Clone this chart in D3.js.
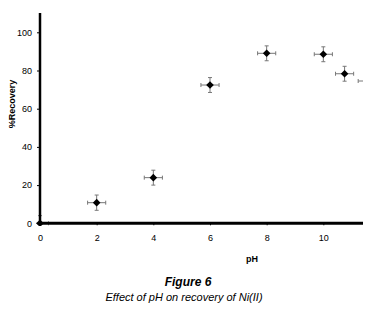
<!DOCTYPE html>
<html><head><meta charset="utf-8">
<script src="https://cdn.jsdelivr.net/npm/d3@7"></script>
<style>body{margin:0;background:#fff}svg{display:block}text{font-family:Arial,"Liberation Sans",sans-serif}</style>
</head><body><svg id="c" width="379" height="312"></svg>
<script>
const phValues = [0, 2, 4, 6, 8, 10, 10.75, 11.55];
const recovery = [0, 10.8, 23.9, 72.4, 89.0, 88.5, 78.3, 74.5];
const yErr = [4, 4, 3.9, 3.9, 3.9, 3.9, 3.9, 0];
const xErr = [0.3, 0.32, 0.32, 0.32, 0.32, 0.32, 0.32, 0.32];
const xTicks = [0, 2, 4, 6, 8, 10];
const yTicks = [0, 20, 40, 60, 80, 100];

const svg = d3.select("#c");
const x = d3.scaleLinear().domain([0, 11.4]).range([40, 363]);
const y = d3.scaleLinear().domain([0, 100]).range([223.3, 32.3]);

svg.append("clipPath").attr("id","clip").append("rect")
  .attr("x",36).attr("y",10).attr("width",327).attr("height",216);

const g = svg.append("g").attr("clip-path","url(#clip)");
const data = phValues.map((p,i)=>({p, r:recovery[i], ey:yErr[i], ex:xErr[i]}));
const eb = g.selectAll(".eb").data(data).enter().append("g").attr("stroke","#777").attr("stroke-width",1);
eb.filter(d=>d.ey>0).append("line").attr("x1",d=>x(d.p)).attr("x2",d=>x(d.p)).attr("y1",d=>y(d.r-d.ey)).attr("y2",d=>y(d.r+d.ey));
eb.filter(d=>d.ey>0).append("line").attr("x1",d=>x(d.p)-2).attr("x2",d=>x(d.p)+2).attr("y1",d=>y(d.r+d.ey)).attr("y2",d=>y(d.r+d.ey));
eb.filter(d=>d.ey>0).append("line").attr("x1",d=>x(d.p)-2).attr("x2",d=>x(d.p)+2).attr("y1",d=>y(d.r-d.ey)).attr("y2",d=>y(d.r-d.ey));
eb.append("line").attr("x1",d=>x(d.p-d.ex)).attr("x2",d=>x(d.p+d.ex)).attr("y1",d=>y(d.r)).attr("y2",d=>y(d.r));
eb.append("line").attr("x1",d=>x(d.p-d.ex)).attr("x2",d=>x(d.p-d.ex)).attr("y1",d=>y(d.r)-2).attr("y2",d=>y(d.r)+2);
eb.append("line").attr("x1",d=>x(d.p+d.ex)).attr("x2",d=>x(d.p+d.ex)).attr("y1",d=>y(d.r)-2).attr("y2",d=>y(d.r)+2);

g.selectAll(".pt").data(data.filter(d=>d.p<=11.4)).enter().append("path")
  .attr("transform",d=>`translate(${x(d.p)},${y(d.r)})`)
  .attr("d","M0,-3.8L3.8,0L0,3.8L-3.8,0Z").attr("fill","#000");

// axes
const xa = svg.append("g").attr("transform","translate(0,223.3)")
  .call(d3.axisBottom(x).tickValues(xTicks).tickSize(2).tickPadding(9));
xa.select(".domain").remove();
xa.selectAll("text").attr("font-size","9px").attr("fill","#000");
svg.append("line").attr("x1",38.5).attr("x2",363).attr("y1",y(0)).attr("y2",y(0)).attr("stroke","#000").attr("stroke-width",3);

const ya = svg.append("g").attr("transform","translate(40,0)")
  .call(d3.axisLeft(y).tickValues(yTicks).tickSize(3).tickPadding(5));
ya.select(".domain").remove();
ya.selectAll("text").attr("font-size","9px").attr("fill","#000");
svg.append("line").attr("x1",40).attr("x2",40).attr("y1",13).attr("y2",224.8).attr("stroke","#000").attr("stroke-width",2.5);

svg.append("text").attr("transform","translate(15,104) rotate(-90)").attr("text-anchor","middle")
  .attr("font-size","9px").attr("font-weight","bold").text("%Recovery");
svg.append("text").attr("x",252).attr("y",262).attr("text-anchor","middle")
  .attr("font-size","9px").attr("font-weight","bold").text("pH");
svg.append("text").attr("x",188).attr("y",286).attr("text-anchor","middle")
  .attr("font-size","12px").attr("font-weight","bold").attr("font-style","italic").text("Figure 6");
svg.append("text").attr("x",184).attr("y",301).attr("text-anchor","middle")
  .attr("font-size","11px").attr("font-style","italic").text("Effect of pH on recovery of Ni(II)");
</script></body></html>
